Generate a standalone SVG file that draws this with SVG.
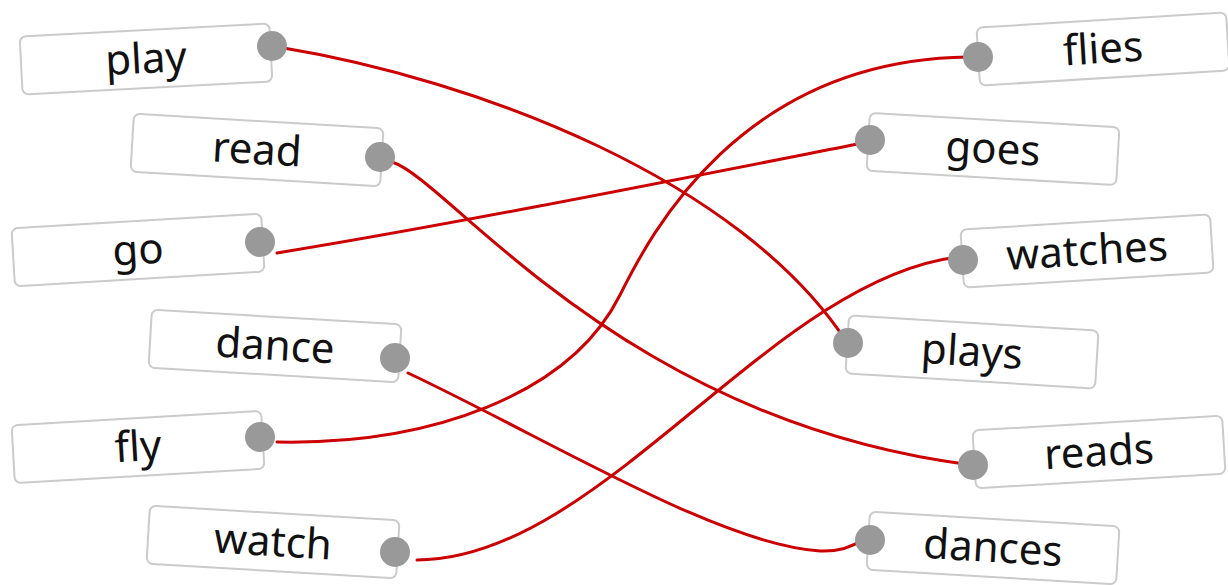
<svg xmlns="http://www.w3.org/2000/svg" width="1228" height="585" viewBox="0 0 1228 585">
<style>
.box{fill:#fff;stroke:#cbcbcb;stroke-width:2}
.lbl{font-family:"Noto Sans","DejaVu Sans",sans-serif;font-size:42px;fill:#111;text-anchor:middle}
.dot{fill:#999}
.wire{fill:none;stroke:#cc0000;stroke-width:3;stroke-linecap:round}
</style>
<rect width="1228" height="585" fill="#fff"/>
<g id="connectors">
<path class="wire" d="M278,47 C480,80 740,180 846,341"/>
<path class="wire" d="M392,162 C450,180 620,420 971,465"/>
<path class="wire" d="M277,253 C450,225 700,175 868,142"/>
<path class="wire" d="M408,373 C550,440 720,545 820,551 Q845,552 862,540"/>
<path class="wire" d="M277,442 C430,445 570,395 620,295 C650,235 740,60 968,57"/>
<path class="wire" d="M417,560 C600,560 770,280 958,257"/>
</g>
<g id="n-play"><g transform="rotate(-3 146 59)"><rect class="box" x="21" y="30" width="250" height="58" rx="6"/><text class="lbl" x="146" y="73">play</text></g><circle class="dot" cx="272" cy="46" r="15"/></g>
<g id="n-read"><g transform="rotate(3.4 257 150)"><rect class="box" x="132" y="121" width="250" height="58" rx="6"/><text class="lbl" x="257" y="164">read</text></g><circle class="dot" cx="380" cy="157" r="15"/></g>
<g id="n-go"><g transform="rotate(-3.4 138 250)"><rect class="box" x="13" y="221" width="250" height="58" rx="6"/><text class="lbl" x="138" y="264">go</text></g><circle class="dot" cx="260" cy="242" r="15"/></g>
<g id="n-dance"><g transform="rotate(3.4 275 346)"><rect class="box" x="150" y="317" width="250" height="58" rx="6"/><text class="lbl" x="275" y="360">dance</text></g><circle class="dot" cx="395" cy="358" r="15"/></g>
<g id="n-fly"><g transform="rotate(-3.3 138 447)"><rect class="box" x="13" y="418" width="250" height="58" rx="6"/><text class="lbl" x="138" y="461">fly</text></g><circle class="dot" cx="260" cy="437" r="15"/></g>
<g id="n-watch"><g transform="rotate(3.4 273 542)"><rect class="box" x="148" y="513" width="250" height="58" rx="6"/><text class="lbl" x="273" y="556">watch</text></g><circle class="dot" cx="395" cy="552" r="15"/></g>
<g id="n-flies"><g transform="rotate(-3.5 1103 49)"><rect class="box" x="978" y="20" width="250" height="58" rx="6"/><text class="lbl" x="1103" y="63">flies</text></g><circle class="dot" cx="978" cy="57" r="15"/></g>
<g id="n-goes"><g transform="rotate(3.3 993 149)"><rect class="box" x="868" y="120" width="250" height="58" rx="6"/><text class="lbl" x="993" y="163">goes</text></g><circle class="dot" cx="870" cy="140" r="15"/></g>
<g id="n-watches"><g transform="rotate(-3.5 1087 251)"><rect class="box" x="962" y="222" width="250" height="58" rx="6"/><text class="lbl" x="1087" y="265">watches</text></g><circle class="dot" cx="963" cy="260" r="15"/></g>
<g id="n-plays"><g transform="rotate(3.5 972 352)"><rect class="box" x="847" y="323" width="250" height="58" rx="6"/><text class="lbl" x="972" y="366">plays</text></g><circle class="dot" cx="848" cy="343" r="15"/></g>
<g id="n-reads"><g transform="rotate(-3.4 1099 452)"><rect class="box" x="974" y="423" width="250" height="58" rx="6"/><text class="lbl" x="1099" y="466">reads</text></g><circle class="dot" cx="973" cy="465" r="15"/></g>
<g id="n-dances"><g transform="rotate(3.4 993 548)"><rect class="box" x="868" y="519" width="250" height="58" rx="6"/><text class="lbl" x="993" y="562">dances</text></g><circle class="dot" cx="870" cy="540" r="15"/></g>
</svg>
